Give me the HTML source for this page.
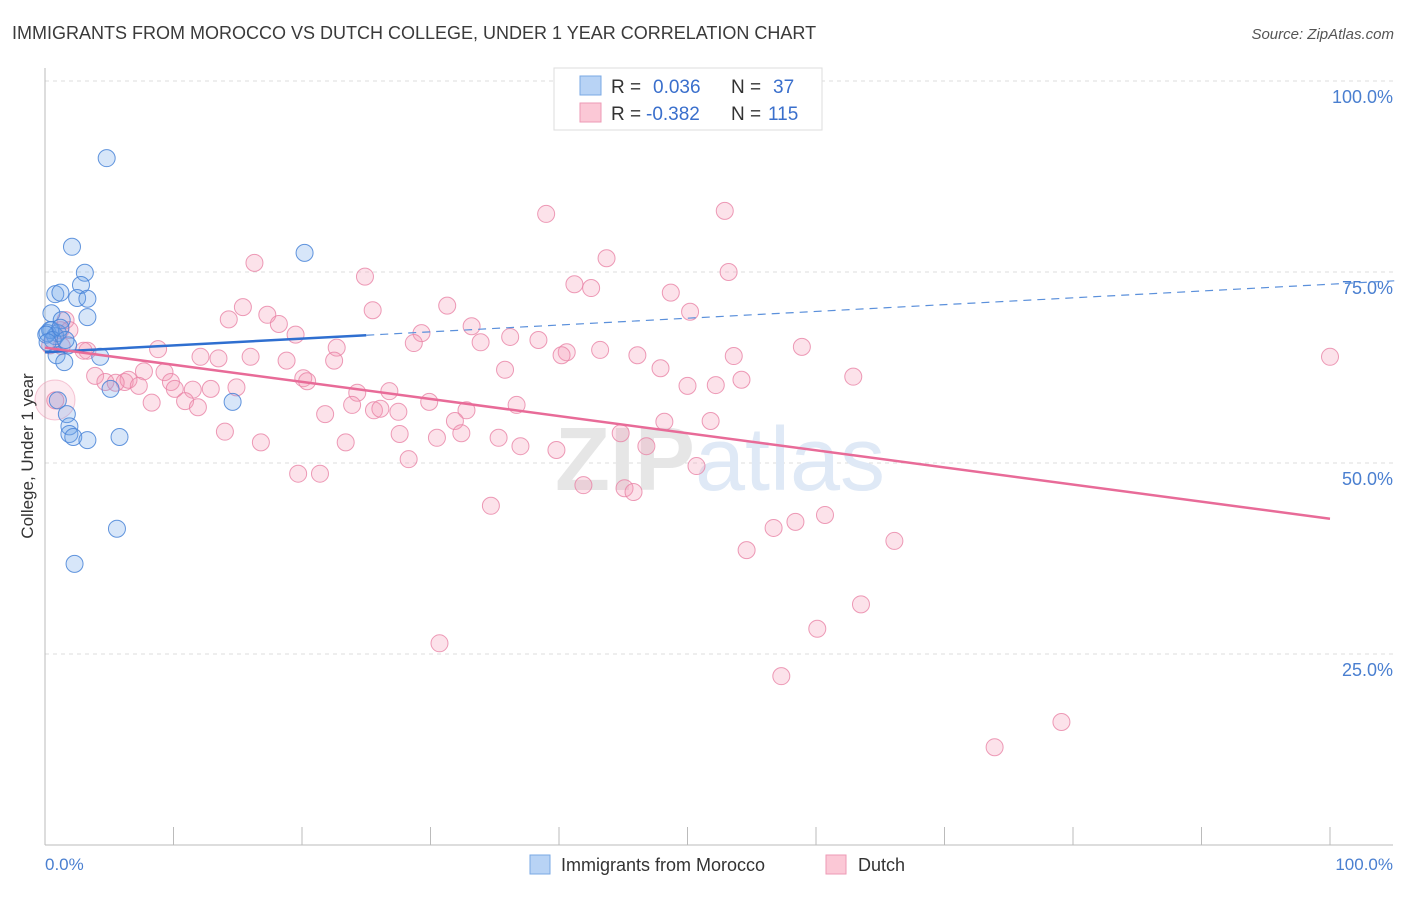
<!DOCTYPE html>
<html><head><meta charset="utf-8"><style>
body{margin:0;background:#fff;font-family:"Liberation Sans",sans-serif;}
svg text{font-family:"Liberation Sans",sans-serif;}
</style></head><body>
<svg width="1406" height="892" viewBox="0 0 1406 892">
<text x="12" y="39" font-size="18" fill="#3a3a3a">IMMIGRANTS FROM MOROCCO VS DUTCH COLLEGE, UNDER 1 YEAR CORRELATION CHART</text>
<text x="1394" y="39" font-size="15" fill="#555" text-anchor="end" font-style="italic">Source: ZipAtlas.com</text>
<g id="grid"></g>
<text x="720" y="490" font-size="90" fill="#e6e6e6" text-anchor="middle" font-weight="bold">ZIP<tspan fill="#dfe9f6" font-weight="normal">atlas</tspan></text>
<g id="axes"></g>
<circle cx="55" cy="400" r="20" fill="rgba(244,150,180,0.2)" stroke="rgba(236,147,176,0.5)"/>
<g id="pink"></g>
<g id="blue"></g>
<g id="lines"></g>
<text x="33" y="456" font-size="17" fill="#333" text-anchor="middle" transform="rotate(-90 33 456)">College, Under 1 year</text>
<text x="45" y="870" font-size="17" fill="#4a7fd0">0.0%</text>
<text x="1393" y="870" font-size="17" fill="#4a7fd0" text-anchor="end">100.0%</text>
<g>
<rect x="554" y="68" width="268" height="62" fill="#fff" stroke="#ddd"/>
<rect x="580" y="76" width="21" height="19" fill="#b8d3f5" stroke="#7aa8e4"/>
<rect x="580" y="103" width="21" height="19" fill="#fbc8d6" stroke="#ee9ab5"/>
<text x="611" y="93" font-size="19" fill="#333">R = <tspan fill="#3a6fcc" x="653">0.036</tspan><tspan x="731" fill="#333">N = </tspan><tspan x="773" fill="#3a6fcc">37</tspan></text>
<text x="611" y="120" font-size="19" fill="#333">R = <tspan fill="#3a6fcc" x="646">-0.382</tspan><tspan x="731" fill="#333">N = </tspan><tspan x="768" fill="#3a6fcc">115</tspan></text>
</g>
<g>
<rect x="530" y="855" width="20" height="19" fill="#b8d3f5" stroke="#7aa8e4"/>
<text x="561" y="871" font-size="18" fill="#333">Immigrants from Morocco</text>
<rect x="826" y="855" width="20" height="19" fill="#fbc8d6" stroke="#ee9ab5"/>
<text x="858" y="871" font-size="18" fill="#333">Dutch</text>
</g>
</svg>
<script>
const yTicks=[25,50,75,100];
const yTickLabels=["25.0%","50.0%","75.0%","100.0%"];
const xTicks=[0,10,20,30,40,50,60,70,80,90,100];
const blueX=[4.8,2.1,20.2,3.1,2.8,0.8,1.2,2.5,3.3,0.5,3.3,1.3,0.5,1.0,0.2,0.8,1.8,0.9,4.3,1.5,5.1,14.6,1.0,1.7,1.9,1.9,2.2,3.3,5.8,5.6,2.3,0.4,0.1,0.6,1.2,0.2,1.6];
const blueY=[89.9,78.3,77.5,74.9,73.3,72.1,72.3,71.6,71.5,69.6,69.1,68.7,67.4,67.0,67.0,66.6,65.4,64.1,63.9,63.2,59.7,58.0,58.2,56.4,54.8,53.8,53.4,53.0,53.4,41.4,36.8,67.4,66.8,66.1,67.7,65.8,66.1];
const pinkX=[39.0,52.9,16.3,43.7,53.2,24.9,41.2,42.5,48.7,31.3,15.4,25.5,50.2,14.3,17.3,18.2,33.2,19.5,29.3,36.2,38.4,28.7,33.9,22.7,58.9,8.8,3.3,43.2,40.6,40.2,46.1,53.6,12.1,13.5,16.0,18.8,22.5,47.9,35.8,7.7,9.3,62.9,3.9,20.1,54.2,4.7,6.2,20.4,6.5,5.5,7.3,9.8,52.2,50.0,10.1,12.9,11.5,14.9,26.8,24.3,10.9,29.9,8.3,11.9,23.9,36.7,25.6,26.1,27.5,32.8,21.8,31.9,51.8,48.2,14.0,27.6,32.4,44.8,30.5,35.3,16.8,23.4,37.0,46.8,39.8,28.3,50.7,19.7,21.4,41.9,45.1,45.8,34.7,60.7,58.4,56.7,66.1,54.6,63.5,60.1,30.7,57.3,79.1,73.9,100,0.8,1.2,1.6,1.9,1.3,3.0,0.4];
const pinkY=[82.6,83.0,76.2,76.8,75.0,74.4,73.4,72.9,72.3,70.6,70.4,70.0,69.8,68.8,69.4,68.2,67.9,66.8,67.0,66.5,66.1,65.7,65.8,65.1,65.2,64.9,64.7,64.8,64.5,64.1,64.1,64.0,63.9,63.7,63.9,63.4,63.4,62.4,62.2,62.0,61.9,61.3,61.4,61.1,60.9,60.6,60.6,60.7,60.9,60.5,60.1,60.6,60.2,60.1,59.7,59.7,59.6,59.9,59.4,59.2,58.1,58.0,57.9,57.3,57.6,57.6,56.9,57.1,56.7,56.9,56.4,55.5,55.5,55.4,54.1,53.8,53.9,53.9,53.3,53.3,52.7,52.7,52.2,52.2,51.7,50.5,49.6,48.6,48.6,47.1,46.7,46.2,44.4,43.2,42.3,41.5,39.8,38.6,31.5,28.3,26.4,22.1,16.1,12.8,63.9,58.2,67.4,68.7,67.4,65.3,64.7,65.4];
const blueTrend=[64.5,73.4];
const pinkTrend=[65.1,42.7];
const NS="http://www.w3.org/2000/svg";
const X0=45,X1=1330,Y0=845,Y100=81;
function sx(v){return X0+v/100*(X1-X0);}
function sy(v){return Y0-v/100*(Y0-Y100);}
function mk(tag,attrs,parent){const e=document.createElementNS(NS,tag);for(const k in attrs)e.setAttribute(k,attrs[k]);parent.appendChild(e);return e;}
const grid=document.getElementById('grid');
yTicks.forEach((t,i)=>{
 const l=mk('line',{x1:45,x2:1393,y1:sy(t),y2:sy(t),stroke:'#ddd','stroke-dasharray':'4,4'},grid);
 
 
 const tx=mk('text',{x:1393,y:sy(t)+22,'font-size':18,fill:'#4a7fd0','text-anchor':'end'},grid);
 tx.textContent=yTickLabels[i];
 
 
});
const axes=document.getElementById('axes');
mk('line',{x1:45,x2:45,y1:68,y2:845,stroke:'#bbb'},axes);
mk('line',{x1:45,x2:1393,y1:845,y2:845,stroke:'#bbb'},axes);
xTicks.forEach(t=>{
 const l=mk('line',{x1:sx(t),x2:sx(t),y1:827,y2:845,stroke:'#bbb'},axes);
 
 
});
const pink=document.getElementById('pink');
pinkX.forEach((v,i)=>{
 const c=mk('circle',{cx:sx(v),cy:sy(pinkY[i]),r:8.5,fill:'rgba(244,150,180,0.28)',stroke:'rgba(232,130,165,0.8)','stroke-width':1},pink);
 
 
});
const blue=document.getElementById('blue');
blueX.forEach((v,i)=>{
 const c=mk('circle',{cx:sx(v),cy:sy(blueY[i]),r:8.5,fill:'rgba(110,165,235,0.28)',stroke:'rgba(70,130,215,0.85)','stroke-width':1},blue);
 
 
});
const lines=document.getElementById('lines');
function ty(tr,x){return tr[0]+(tr[1]-tr[0])*x/100;}
let a=mk('line',{x1:sx(0),y1:sy(ty(blueTrend,0)),x2:sx(25),y2:sy(ty(blueTrend,25)),stroke:'#2f6fd0','stroke-width':2.5},lines);


let b=mk('line',{x1:sx(25),y1:sy(ty(blueTrend,25)),x2:sx(105),y2:sy(ty(blueTrend,105)),stroke:'#5b90db','stroke-width':1.2,'stroke-dasharray':'8,6'},lines);


let c=mk('line',{x1:sx(0),y1:sy(ty(pinkTrend,0)),x2:sx(100),y2:sy(ty(pinkTrend,100)),stroke:'#e86b98','stroke-width':2.5},lines);


</script>
</body></html>
